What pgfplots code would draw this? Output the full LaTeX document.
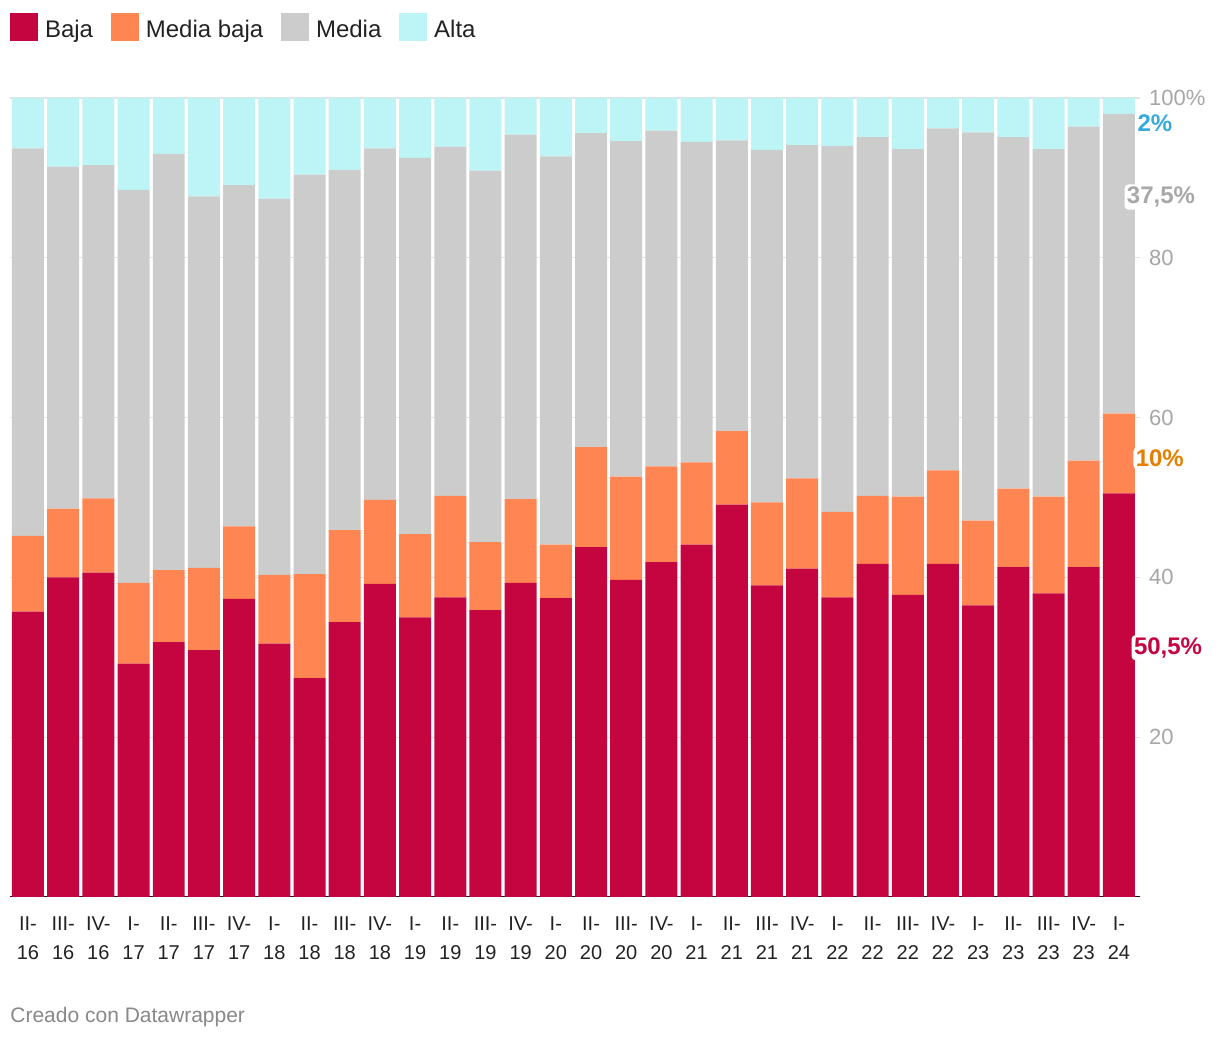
\documentclass[border=0pt]{standalone}
\usepackage{fontspec}
\setmainfont{Liberation Sans}
\usepackage{pgfplots}
\usepackage{pgfplotstable}
\pgfplotsset{compat=1.18}
\definecolor{baja}{HTML}{C5053F}
\definecolor{mbaja}{HTML}{FF8552}
\definecolor{media}{HTML}{CCCCCC}
\definecolor{alta}{HTML}{BDF4F6}
\definecolor{txt}{HTML}{222222}
\definecolor{tickc}{HTML}{A6A6A6}
\definecolor{lblue}{HTML}{36A9DF}
\definecolor{lgray}{HTML}{A8A8A8}
\definecolor{lorange}{HTML}{E67E00}
\definecolor{footer}{HTML}{888888}
\definecolor{gridc}{HTML}{E3E3E3}

\pgfplotstableread{
x baja mbaja media alta
0 35.7 9.5 48.5 6.3
1 40.0 8.6 42.8 8.6
2 40.6 9.3 41.7 8.4
3 29.2 10.1 49.2 11.5
4 31.9 9.0 52.1 7.0
5 30.9 10.3 46.5 12.3
6 37.3 9.1 42.7 10.9
7 31.7 8.6 47.1 12.6
8 27.4 13.0 50.0 9.6
9 34.4 11.5 45.1 9.0
10 39.2 10.5 44.0 6.3
11 35.0 10.4 47.1 7.5
12 37.5 12.7 43.7 6.1
13 35.9 8.5 46.5 9.1
14 39.3 10.5 45.6 4.6
15 37.4 6.7 48.6 7.3
16 43.8 12.5 39.3 4.4
17 39.7 12.9 42.0 5.4
18 41.9 12.0 42.0 4.1
19 44.1 10.3 40.1 5.5
20 49.1 9.2 36.4 5.3
21 39.0 10.4 44.1 6.5
22 41.1 11.3 41.7 5.9
23 37.5 10.7 45.8 6.0
24 41.7 8.5 44.9 4.9
25 37.8 12.3 43.5 6.4
26 41.7 11.7 42.8 3.8
27 36.5 10.6 48.6 4.3
28 41.3 9.8 44.0 4.9
29 38.0 12.1 43.5 6.4
30 41.3 13.3 41.8 3.6
31 50.5 10.0 37.5 2.0
}\datatable

\newcommand{\halo}[3]{%
  \node[anchor=west, inner sep=1.2pt, fill=white, rounded corners=2pt, text=#2, font=\fontsize{12}{14}\selectfont\bfseries] at (#1) {#3};}

\begin{document}
\begin{tikzpicture}
\useasboundingbox (0,0) rectangle (610pt,521pt);
\begin{axis}[
  at={(5pt,72.5pt)}, anchor=south west,
  width=565pt, height=399.5pt, scale only axis,
  ybar stacked, bar width=0.909,
  xmin=-0.511, xmax=31.6, ymin=0, ymax=100,
  axis x line*=bottom, axis y line*=right,
  axis line style={draw=none},
  major tick length=0pt,
  xtick={0,...,31},
  xticklabels={{II-\\16},{III-\\16},{IV-\\16},{I-\\17},{II-\\17},{III-\\17},{IV-\\17},{I-\\18},{II-\\18},{III-\\18},{IV-\\18},{I-\\19},{II-\\19},{III-\\19},{IV-\\19},{I-\\20},{II-\\20},{III-\\20},{IV-\\20},{I-\\21},{II-\\21},{III-\\21},{IV-\\21},{I-\\22},{II-\\22},{III-\\22},{IV-\\22},{I-\\23},{II-\\23},{III-\\23},{IV-\\23},{I-\\24}},
  xticklabel style={align=center, font=\fontsize{10}{14.5}\selectfont, text=txt, yshift=-6.5pt},
  ytick={20,40,60,80,100},
  yticklabels={20,40,60,80,100\%},
  yticklabel style={anchor=west, font=\fontsize{11}{13}\selectfont, text=tickc, xshift=1pt},
  /pgf/number format/assume math mode=true,
  ymajorgrids, grid style={gridc, line width=0.6pt},
  legend image code/.code={\fill[#1] (0pt,-5.45pt) rectangle (14pt,8.45pt); \path (0pt,0pt) -- (15.5pt,0pt);},
  legend style={at={(axis description cs:0,1)}, anchor=north west, yshift=42.3pt,
    draw=none, fill=none, inner sep=0pt, outer sep=0pt,
    font=\fontsize{12}{14}\selectfont, text=txt,
    /tikz/every even column/.append style={column sep=6.9pt}},
  legend columns=-1,
]
\addplot[fill=baja, draw=none] table[x=x, y=baja] {\datatable};
\addplot[fill=mbaja, draw=none] table[x=x, y=mbaja] {\datatable};
\addplot[fill=media, draw=none] table[x=x, y=media] {\datatable};
\addplot[fill=alta, draw=none] table[x=x, y=alta] {\datatable};
\legend{Baja, Media baja, Media, Alta}
\draw[black!93, line width=1.1pt] (rel axis cs:0,0) -- (rel axis cs:1,0);
\coordinate (l1) at (axis cs:31.45,96.9);
\coordinate (l2) at (axis cs:31.15,87.6);
\coordinate (l3) at (axis cs:31.40,54.9);
\coordinate (l4) at (axis cs:31.35,31.2);
\end{axis}
\halo{l1}{lblue}{2\%}
\halo{l2}{lgray}{37,5\%}
\halo{l3}{lorange}{10\%}
\halo{l4}{baja}{50,5\%}
\node[anchor=west, inner sep=0pt, text=footer, font=\fontsize{10.5}{12}\selectfont] at (5pt,12.5pt) {Creado con Datawrapper};
\end{tikzpicture}
\end{document}
